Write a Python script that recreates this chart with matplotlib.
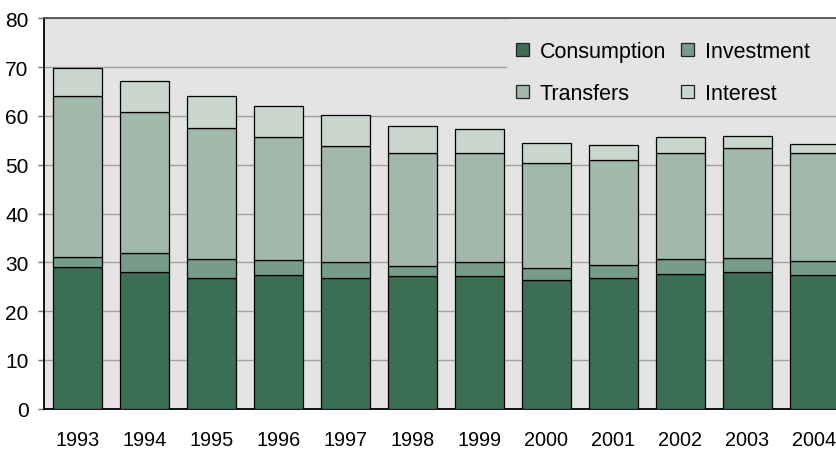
import matplotlib
matplotlib.use("Agg")
import matplotlib.pyplot as plt
from matplotlib.patches import Rectangle
import numpy as np

plt.rcParams['font.family'] = ['Liberation Sans', 'DejaVu Sans']

# Spending components by year (share, %)
years = ['1993', '1994', '1995', '1996', '1997', '1998',
         '1999', '2000', '2001', '2002', '2003', '2004']
consumption = [29.1, 28.0, 26.8, 27.5, 26.8, 27.2, 27.1, 26.3, 26.7, 27.6, 28.1, 27.3]
investment = [1.9, 3.9, 3.9, 3.0, 3.3, 2.1, 3.0, 2.5, 2.8, 3.1, 2.8, 2.9]
transfers = [33.0, 28.8, 26.8, 25.1, 23.7, 23.0, 22.4, 21.6, 21.5, 21.6, 22.5, 22.1]
interest = [5.8, 6.4, 6.5, 6.5, 6.3, 5.6, 4.8, 4.1, 3.0, 3.3, 2.4, 2.0]

series = [('Consumption', consumption, '#3c6e55'),
          ('Investment', investment, '#789c8a'),
          ('Transfers', transfers, '#a2b8aa'),
          ('Interest', interest, '#c8d6ce')]

fig = plt.figure(figsize=(8.37, 4.52), dpi=100)
# axes runs off the right edge of the figure on purpose
ax = fig.add_axes([44 / 837, 42.3 / 452, 804 / 837, 390.4 / 452])
ax.set_facecolor('#e4e4e4')

x = np.arange(len(years))
bottom = np.zeros(len(years))
handles = []
for name, vals, col in series:
    b = ax.bar(x, vals, width=0.72, bottom=bottom, color=col,
               edgecolor='black', linewidth=0.9, label=name, zorder=3)
    handles.append(b)
    bottom += np.array(vals)

ax.set_xlim(-0.5, len(years) - 0.5)
ax.set_ylim(0, 80)
ax.set_yticks(np.arange(0, 81, 10))
ax.set_xticks(x)
ax.set_xticklabels(years)
ax.yaxis.grid(True, color='#a0a0a0', linewidth=1.0, zorder=0)
ax.set_axisbelow(True)

ax.tick_params(axis='y', direction='out', length=4.5, width=1.0,
               color='#707070', pad=6.5, labelsize=15)
ax.tick_params(axis='x', length=0, pad=15.5, labelsize=14.3)

for s in ['left', 'bottom']:
    ax.spines[s].set_color('black')
    ax.spines[s].set_linewidth(1.3)
ax.spines['top'].set_color('#505050')
ax.spines['top'].set_linewidth(1.3)
ax.spines['right'].set_visible(False)

# plain panel behind the legend hides the upper gridline
ax.add_patch(Rectangle((0.576, 0.77), 0.5, 0.3, transform=ax.transAxes,
                       facecolor='#e4e4e4', edgecolor='none', zorder=1))

# legend fills column by column, so order gives rows Consumption/Investment, Transfers/Interest
order = [0, 2, 1, 3]
leg = ax.legend(handles=[handles[i] for i in order], ncol=2, loc='upper left',
                bbox_to_anchor=(516 / 837, (452 - 42) / 452),
                bbox_transform=fig.transFigure, frameon=False,
                fontsize=15.5, handlelength=0.6, handleheight=0.6,
                handletextpad=0.5, columnspacing=0.7, labelspacing=0.98,
                borderpad=0, borderaxespad=0)
for p in leg.get_patches():
    p.set_edgecolor('#222222')
    p.set_linewidth(0.9)

fig.savefig('out.png', dpi=100)
